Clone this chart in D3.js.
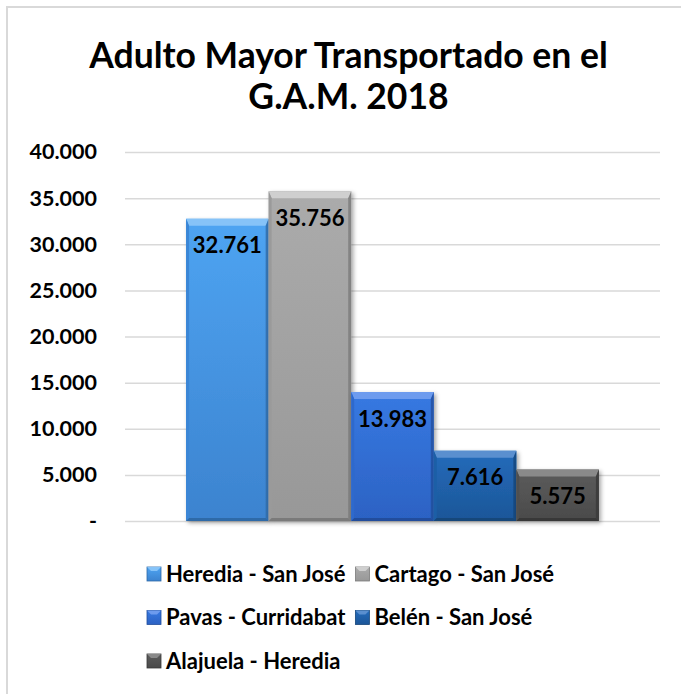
<!DOCTYPE html>
<html>
<head>
    <title>Adulto Mayor Transportado</title>
    <script src="https://d3js.org/d3.v7.min.js"></script>
    <style>
        body { margin: 0; background: #fff; }
        svg { display: block; font-family: Lato, "Open Sans", sans-serif; font-weight: bold; }
    </style>
</head>
<body>
<div id="chart"></div>
<script>
const titleLines = ["Adulto Mayor Transportado en el", "G.A.M. 2018"];
const rutas = ["Heredia - San José", "Cartago - San José", "Pavas - Curridabat", "Belén - San José", "Alajuela - Heredia"];
const pasajeros = [32761, 35756, 13983, 7616, 5575];
const yTicks = [0, 5000, 10000, 15000, 20000, 25000, 30000, 35000, 40000];

// face top, face bottom, top bevel, side bevel, bottom bevel
const colores = [
    ["#4ea4f2", "#3c83cf", "#86c3f8", "#3a86d6", "#2f6aa8"],
    ["#ababab", "#989898", "#cfcfcf", "#9a9a9a", "#7a7a7a"],
    ["#3779e2", "#2c62c3", "#6d9bee", "#2f69cc", "#224e9c"],
    ["#246bbb", "#1c5698", "#5a8fcf", "#1f5ea6", "#16467a"],
    ["#5c5c5c", "#4a4a4a", "#8a8a8a", "#505050", "#383838"]
];

const W = 681, H = 694;
const margin = { top: 152, right: 21, bottom: 173, left: 125 };
const innerW = W - margin.left - margin.right;
const innerH = H - margin.top - margin.bottom;

const fmt = d3.formatLocale({ decimal: ",", thousands: ".", grouping: [3], currency: ["", ""] }).format(",d");

const svg = d3.select("#chart").append("svg")
    .attr("width", W)
    .attr("height", H);

const defs = svg.append("defs");
defs.append("filter").attr("id", "sombra")
    .attr("x", "-10%").attr("y", "-10%").attr("width", "130%").attr("height", "130%")
    .append("feDropShadow")
    .attr("dx", 2).attr("dy", 2).attr("stdDeviation", 2)
    .attr("flood-color", "#000").attr("flood-opacity", 0.35);

colores.forEach((c, i) => {
    const g = defs.append("linearGradient").attr("id", "cara" + i)
        .attr("x1", 0).attr("y1", 0).attr("x2", 0).attr("y2", 1);
    g.append("stop").attr("offset", "0%").attr("stop-color", c[0]);
    g.append("stop").attr("offset", "100%").attr("stop-color", c[1]);
});

// frame
svg.append("path")
    .attr("d", `M7,${H} L7,7 L${W},7`)
    .attr("fill", "none")
    .attr("stroke", "#d9d9d9")
    .attr("stroke-width", 2);

// title
svg.append("text")
    .attr("x", W / 2 + 8)
    .attr("text-anchor", "middle")
    .style("font-size", "35.5px")
    .selectAll("tspan")
    .data(titleLines)
    .join("tspan")
    .attr("x", W / 2 + 8)
    .attr("y", (d, i) => 68 + i * 41)
    .text(d => d);

const g = svg.append("g").attr("transform", `translate(${margin.left},${margin.top})`);

const y = d3.scaleLinear().domain([0, 40000]).range([innerH, 0]);
const x0 = d3.scaleBand().domain(["G.A.M."]).range([0, innerW]).paddingOuter(0.148);
const x = d3.scaleBand().domain(rutas).range([x0("G.A.M."), x0("G.A.M.") + x0.bandwidth()]);

// grid
g.append("g")
    .call(d3.axisLeft(y).tickValues(yTicks).tickSize(-innerW).tickFormat(""))
    .call(a => a.select(".domain").remove())
    .call(a => a.selectAll("line").attr("stroke", "#d9d9d9").attr("stroke-width", 1.5));

// y labels
g.append("g")
    .call(d3.axisLeft(y).tickValues(yTicks).tickSize(0).tickPadding(28)
        .tickFormat(d => d === 0 ? "-" : fmt(d)))
    .call(a => a.select(".domain").remove())
    .call(a => a.selectAll("text")
        .style("font-family", "Lato, sans-serif")
        .style("font-weight", "bold")
        .style("font-size", "21.5px")
        .attr("fill", "#000"));

const data = rutas.map((r, i) => ({ ruta: r, valor: pasajeros[i], c: colores[i], i }));

const bars = g.selectAll(".bar")
    .data(data)
    .join("g")
    .attr("class", "bar")
    .attr("filter", "url(#sombra)");

const bt = 7, bs = 3, bb = 3;
bars.each(function(d) {
    const sel = d3.select(this);
    const xa = x(d.ruta), xb = xa + x.bandwidth();
    const ya = y(d.valor), yb = y(0);
    sel.append("rect")
        .attr("x", xa).attr("y", ya)
        .attr("width", xb - xa).attr("height", yb - ya)
        .attr("fill", `url(#cara${d.i})`);
    // top bevel
    sel.append("polygon")
        .attr("points", [[xa, ya], [xb, ya], [xb - bs, ya + bt], [xa + bs, ya + bt]].join(" "))
        .attr("fill", d.c[2]);
    // sides
    sel.append("polygon")
        .attr("points", [[xa, ya], [xa + bs, ya + bt], [xa + bs, yb - bb], [xa, yb]].join(" "))
        .attr("fill", d.c[3]);
    sel.append("polygon")
        .attr("points", [[xb, ya], [xb - bs, ya + bt], [xb - bs, yb - bb], [xb, yb]].join(" "))
        .attr("fill", d.c[4]).attr("opacity", 0.8);
    // bottom
    sel.append("polygon")
        .attr("points", [[xa, yb], [xa + bs, yb - bb], [xb - bs, yb - bb], [xb, yb]].join(" "))
        .attr("fill", d.c[4]);
});

// value labels
g.selectAll(".etiqueta")
    .data(data)
    .join("text")
    .attr("class", "etiqueta")
    .attr("x", d => x(d.ruta) + x.bandwidth() / 2)
    .attr("y", d => y(d.valor) + 27)
    .attr("dy", "0.35em")
    .attr("text-anchor", "middle")
    .style("font-size", "22px")
    .attr("fill", "#000")
    .text(d => fmt(d.valor));

// legend
const filas = [[0, 1], [2, 3], [4]];
const leg = svg.append("g").attr("transform", "translate(147,0)");
filas.forEach((fila, r) => {
    let cx = 0;
    fila.forEach(i => {
        const it = leg.append("g").attr("transform", `translate(${cx},${574 + r * 43.5})`);
        it.append("rect")
            .attr("x", 0).attr("y", -7).attr("width", 14).attr("height", 14)
            .attr("fill", `url(#cara${i})`)
            .attr("stroke", colores[i][4]).attr("stroke-width", 0.8);
        it.append("polygon")
            .attr("points", "0,-7 14,-7 10,-3 4,-3")
            .attr("fill", colores[i][2]);
        const t = it.append("text")
            .attr("x", 19).attr("dy", "0.35em")
            .style("font-size", "22px")
            .attr("fill", "#000")
            .text(rutas[i]);
        cx += 19 + t.node().getComputedTextLength() + 10;
    });
});
</script>
</body>
</html>
